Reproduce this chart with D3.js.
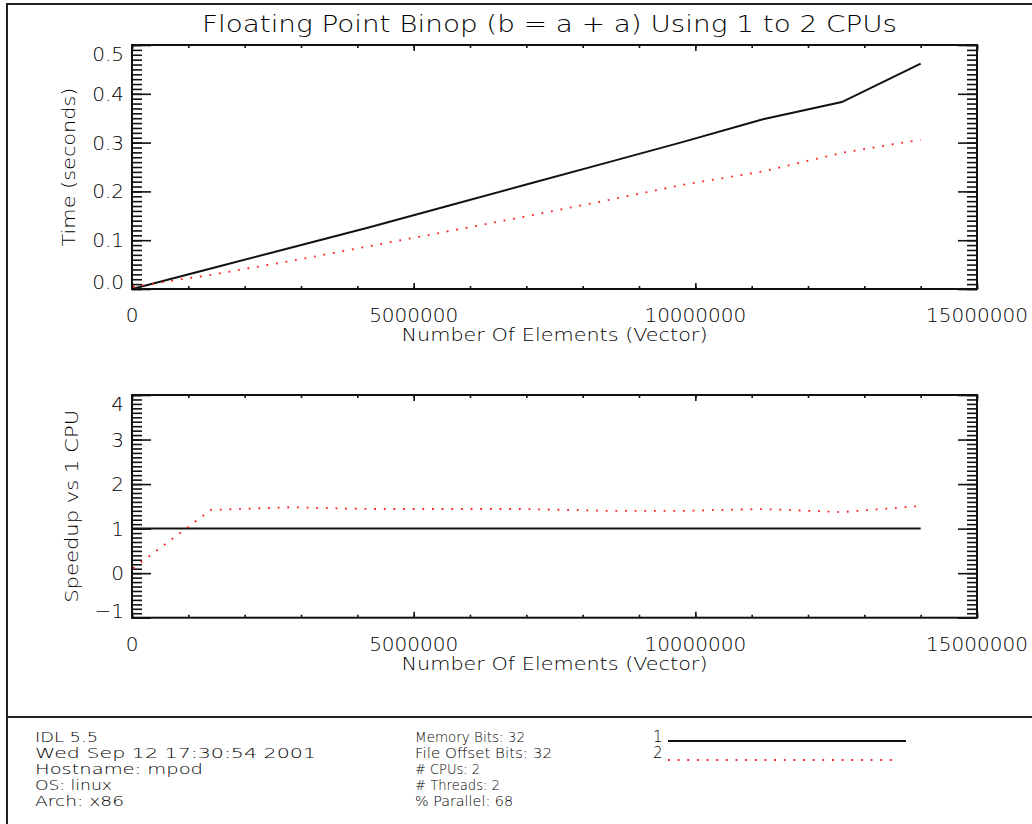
<!DOCTYPE html>
<html>
<head>
<meta charset="utf-8">
<script src="https://cdn.jsdelivr.net/npm/d3@7"></script>
<style>
  html, body { margin: 0; padding: 0; background: #fff; }
  svg { display: block; }
  text { font-family: "DejaVu Sans", sans-serif; font-weight: 200; fill: #000; }
</style>
</head>
<body>
<svg id="chart" width="1032" height="824"></svg>
<script>
// ---- benchmark data -------------------------------------------------------
const elements   = [20000, 1400000, 2800000, 4200000, 5600000, 7000000,
                    8400000, 9800000, 11200000, 12600000, 14000000];
const time1Cpu   = [0.0005, 0.042, 0.084, 0.126, 0.170, 0.214,
                    0.258, 0.302, 0.348, 0.383, 0.462];
const time2Cpu   = [0.0045, 0.029, 0.057, 0.0875, 0.118, 0.149,
                    0.181, 0.214, 0.241, 0.279, 0.306];
const speedup1Cpu = [1, 1, 1, 1, 1, 1, 1, 1, 1, 1, 1];
const speedup2Cpu = [0.11, 1.42, 1.48, 1.44, 1.44, 1.44,
                     1.40, 1.40, 1.44, 1.37, 1.51];

const xTicks        = [0, 5000000, 10000000, 15000000];
const timeTicks     = [0.0, 0.1, 0.2, 0.3, 0.4, 0.5];
const speedupTicks  = [-1, 0, 1, 2, 3, 4];

const titleText   = "Floating Point Binop (b = a + a) Using 1 to 2 CPUs";
const xTitleText  = "Number Of Elements (Vector)";
const infoLeft    = ["IDL 5.5", "Wed Sep 12 17:30:54 2001", "Hostname: mpod", "OS: linux", "Arch: x86"];
const infoMiddle  = ["Memory Bits: 32", "File Offset Bits: 32", "# CPUs: 2", "# Threads: 2", "% Parallel: 68"];
const legendNames = ["1", "2"];

// ---- layout -----------------------------------------------------------------
const W = 1032, H = 824;
const plotLeft = 132, plotRight = 977;
const lineColor = "#111";
const redColor = "#ff1a1a";
const dotted = "1.8,7.85";

const svg = d3.select("#chart");

// page frame and footer divider
svg.append("rect")
  .attr("x", 7).attr("y", 4).attr("width", W + 20).attr("height", H + 20)
  .attr("fill", "none").attr("stroke", "#222").attr("stroke-width", 2);
svg.append("line")
  .attr("x1", 7).attr("x2", W + 10).attr("y1", 717).attr("y2", 717)
  .attr("stroke", "#222").attr("stroke-width", 2);

// main title
svg.append("text")
  .attr("x", 202).attr("y", 32)
  .attr("font-size", 23)
  .attr("textLength", 695).attr("lengthAdjust", "spacingAndGlyphs")
  .text(titleText);

const x = d3.scaleLinear().domain([0, 15000000]).range([plotLeft, plotRight]);

const panels = [
  {
    top: 45, bottom: 289, domain: [0, 0.5], ticks: timeTicks, minorStep: 0.01,
    fmt: d3.format(".1f"), series: [time1Cpu, time2Cpu],
    yTitle: "Time (seconds)", yTitleX: 75, yTitleLen: 159
  },
  {
    top: 395, bottom: 617.7, domain: [-1, 4], ticks: speedupTicks, minorStep: 0.1,
    fmt: d3.format("d"), series: [speedup1Cpu, speedup2Cpu],
    yTitle: "Speedup vs 1 CPU", yTitleX: 78, yTitleLen: 193
  }
];

const labelSize = 20;
const capHalf = 7;

panels.forEach(p => {
  const y = d3.scaleLinear().domain(p.domain).range([p.bottom, p.top]);
  const g = svg.append("g");
  const h = p.bottom - p.top;

  const minorX = d3.range(0, 15000001, 1000000);
  const minorY = d3.range(0, Math.round((p.domain[1] - p.domain[0]) / p.minorStep) + 1)
    .map(i => +(p.domain[0] + i * p.minorStep).toFixed(4));

  const tickAxis = (axis, tr, vals, size) => {
    const a = g.append("g").attr("transform", tr)
      .call(axis.tickValues(vals).tickSize(size).tickFormat(""));
    a.select(".domain").remove();
    a.selectAll(".tick line").attr("stroke", lineColor).attr("stroke-width", 1.6);
  };

  // x ticks, bottom and top, pointing into the plot
  tickAxis(d3.axisBottom(x), `translate(0,${p.bottom})`, minorX, -3);
  tickAxis(d3.axisBottom(x), `translate(0,${p.bottom})`, xTicks, -6);
  tickAxis(d3.axisTop(x), `translate(0,${p.top})`, minorX, -3);
  tickAxis(d3.axisTop(x), `translate(0,${p.top})`, xTicks, -6);
  // y ticks, left and right
  tickAxis(d3.axisLeft(y), `translate(${plotLeft},0)`, minorY, -10);
  tickAxis(d3.axisLeft(y), `translate(${plotLeft},0)`, p.ticks, -19);
  tickAxis(d3.axisRight(y), `translate(${plotRight},0)`, minorY, -10);
  tickAxis(d3.axisRight(y), `translate(${plotRight},0)`, p.ticks, -19);

  // plot box
  g.append("rect")
    .attr("x", plotLeft).attr("y", p.top)
    .attr("width", plotRight - plotLeft).attr("height", h)
    .attr("fill", "none").attr("stroke", lineColor).attr("stroke-width", 2);

  // x tick labels
  g.selectAll(null).data(xTicks).enter().append("text")
    .attr("x", d => x(d)).attr("y", p.bottom + 33)
    .attr("text-anchor", "middle").attr("font-size", labelSize)
    .text(d => d3.format("d")(d));

  // y tick labels, end labels kept inside the axis span
  g.selectAll(null).data(p.ticks).enter().append("text")
    .attr("x", plotLeft - 8)
    .attr("y", d => Math.min(Math.max(y(d), p.top + 2 + capHalf), p.bottom - capHalf) + capHalf)
    .attr("text-anchor", "end").attr("font-size", labelSize)
    .text(d => p.fmt(d));

  // axis titles
  g.append("text")
    .attr("x", (plotLeft + plotRight) / 2).attr("y", p.bottom + 52)
    .attr("text-anchor", "middle").attr("font-size", 18)
    .attr("textLength", 306).attr("lengthAdjust", "spacingAndGlyphs")
    .text(xTitleText);
  g.append("text")
    .attr("transform", `translate(${p.yTitleX},${(p.top + p.bottom) / 2}) rotate(-90)`)
    .attr("text-anchor", "middle").attr("font-size", 18)
    .attr("textLength", p.yTitleLen).attr("lengthAdjust", "spacingAndGlyphs")
    .text(p.yTitle);

  // series
  const line = vals => d3.line().x((d, i) => x(elements[i])).y(d => y(d))(vals);
  g.append("path").attr("d", line(p.series[0]))
    .attr("fill", "none").attr("stroke", lineColor).attr("stroke-width", 2);
  g.append("path").attr("d", line(p.series[1]))
    .attr("fill", "none").attr("stroke", redColor).attr("stroke-width", 1.8)
    .attr("stroke-dasharray", dotted);
});

// ---- footer -----------------------------------------------------------------
const footerBase = [742, 758, 774, 790, 806];
const footerSize = 13.5;
const leftLens   = [63, 281, 168, 77, 89];
const midLens    = [110, 137, 65, 85, 98];

svg.selectAll(null).data(infoLeft).enter().append("text")
  .attr("x", 35).attr("y", (d, i) => footerBase[i])
  .attr("font-size", footerSize)
  .attr("textLength", (d, i) => leftLens[i]).attr("lengthAdjust", "spacingAndGlyphs")
  .text(d => d);
svg.selectAll(null).data(infoMiddle).enter().append("text")
  .attr("x", 415).attr("y", (d, i) => footerBase[i])
  .attr("font-size", footerSize)
  .attr("textLength", (d, i) => midLens[i]).attr("lengthAdjust", "spacingAndGlyphs")
  .text(d => d);

// legend
const legendLineY = [741, 760];
const legendEnd = [906, 897];
legendNames.forEach((name, i) => {
  svg.append("text").attr("x", 653).attr("y", footerBase[i]).attr("font-size", 15).text(name);
  svg.append("line")
    .attr("x1", 668).attr("x2", legendEnd[i]).attr("y1", legendLineY[i]).attr("y2", legendLineY[i])
    .attr("stroke", i === 0 ? lineColor : redColor)
    .attr("stroke-width", i === 0 ? 2 : 1.8)
    .attr("stroke-dasharray", i === 0 ? null : dotted);
});
</script>
</body>
</html>
